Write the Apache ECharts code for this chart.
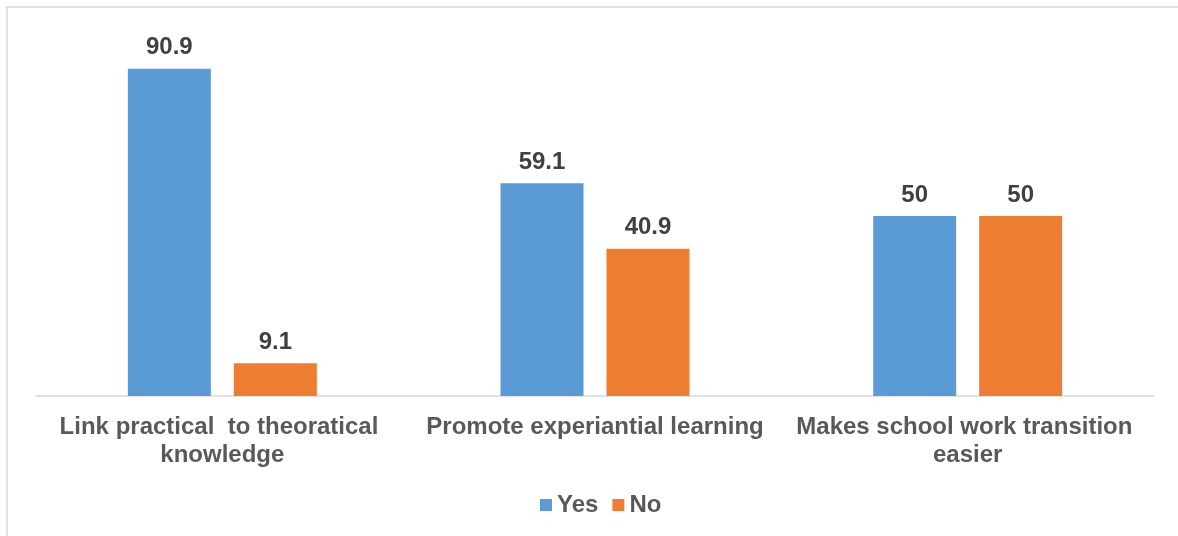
<!DOCTYPE html>
<html>
<head>
<meta charset="utf-8">
<style>
  html, body { margin: 0; padding: 0; background: #ffffff; }
  #chart { width: 1178px; height: 536px; }
</style>
<script src="https://cdn.jsdelivr.net/npm/echarts@6/dist/echarts.min.js"></script>
</head>
<body>
<div id="chart"></div>
<script>
// Benefits of work placement, percentage of respondents
const categories = [
  'Link practical  to theoratical knowledge',
  'Promote experiantial learning',
  'Makes school work transition easier'
];
const yesValues = [90.9, 59.1, 50];
const noValues = [9.1, 40.9, 50];
const seriesNames = ['Yes', 'No'];

const chart = echarts.init(document.getElementById('chart'), null, { renderer: 'canvas' });

const font = '"Liberation Sans", Arial, sans-serif';
const valueLabel = {
  show: true,
  position: 'top',
  distance: 9,
  fontFamily: font,
  fontSize: 24,
  fontWeight: 'bold',
  color: '#404040'
};

chart.setOption({
  animation: false,
  backgroundColor: '#ffffff',
  graphic: [{
    type: 'rect',
    silent: true,
    shape: { x: 7, y: 7, width: 1190, height: 560 },
    style: { fill: 'none', stroke: '#d9d9d9', lineWidth: 1.5 }
  }],
  grid: { left: 36, right: 24, top: 36, bottom: 140, containLabel: false },
  legend: {
    data: seriesNames,
    left: 535,
    top: 488,
    itemWidth: 12,
    itemHeight: 12,
    itemGap: 14,
    icon: 'rect',
    textStyle: { fontFamily: font, fontSize: 24, fontWeight: 'bold', color: '#595959' }
  },
  xAxis: {
    type: 'category',
    data: categories,
    axisLine: { show: true, lineStyle: { color: '#d9d9d9', width: 1.5 } },
    axisTick: { show: false },
    axisLabel: {
      interval: 0,
      margin: 17,
      width: 350,
      overflow: 'break',
      lineHeight: 28,
      fontFamily: font,
      fontSize: 24,
      fontWeight: 'bold',
      color: '#595959'
    }
  },
  yAxis: {
    type: 'value',
    min: 0,
    max: 100,
    show: false,
    splitLine: { show: false }
  },
  series: [
    {
      name: seriesNames[0],
      type: 'bar',
      data: yesValues,
      barWidth: 83,
      barGap: '27.7%',
      itemStyle: { color: '#5b9bd5' },
      label: valueLabel
    },
    {
      name: seriesNames[1],
      type: 'bar',
      data: noValues,
      barWidth: 83,
      barGap: '27.7%',
      itemStyle: { color: '#ed7d31' },
      label: valueLabel
    }
  ]
});
</script>
</body>
</html>
